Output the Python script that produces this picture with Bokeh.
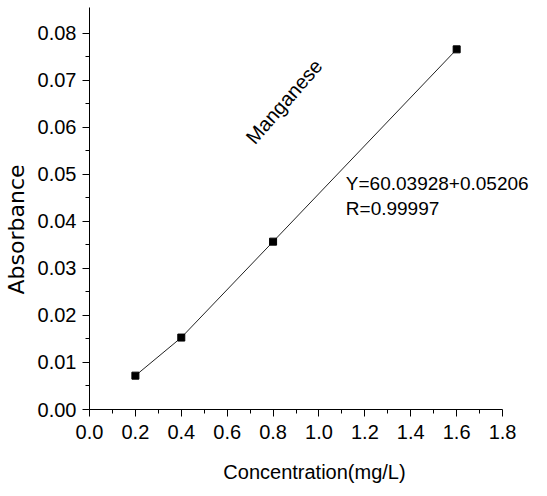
import math
from bokeh.plotting import figure
from bokeh.models import Range1d, FixedTicker, NumeralTickFormatter, Label
from bokeh.embed import file_html
from bokeh.resources import INLINE

conc = [0.2, 0.4, 0.8, 1.6]
absorb = [0.0072, 0.0153, 0.0357, 0.0766]
x_ticks = [0.0, 0.2, 0.4, 0.6, 0.8, 1.0, 1.2, 1.4, 1.6, 1.8]
x_minor = [0.1, 0.3, 0.5, 0.7, 0.9, 1.1, 1.3, 1.5, 1.7]
y_ticks = [0.00, 0.01, 0.02, 0.03, 0.04, 0.05, 0.06, 0.07, 0.08]
y_minor = [0.005, 0.015, 0.025, 0.035, 0.045, 0.055, 0.065, 0.075]

FONT = "Liberation Sans"

# frame extends past 1.8 so the equation text is not clipped; axis is bounded to 0..1.8
p = figure(width=539, height=488, output_backend="svg", toolbar_location=None,
           x_range=Range1d(0, 1.961), y_range=Range1d(0, 0.0855),
           min_border_left=88, min_border_right=0, min_border_top=7, min_border_bottom=79)
p.outline_line_color = None
p.grid.visible = False

p.line(conc, absorb, line_color="#222222", line_width=1)
p.scatter(conc, absorb, marker="square", size=7, fill_color="black", line_color="black")

for ax in (p.xaxis[0], p.yaxis[0]):
    ax.axis_line_color = "black"
    ax.major_tick_line_color = "black"
    ax.minor_tick_line_color = "black"
    ax.major_tick_out = 7
    ax.major_tick_in = 0
    ax.minor_tick_out = 4
    ax.minor_tick_in = 0
    ax.major_label_text_font = FONT
    ax.major_label_text_font_size = "20px"
    ax.major_label_text_color = "black"
    ax.axis_label_text_font = FONT
    ax.axis_label_text_font_size = "20px"
    ax.axis_label_text_font_style = "normal"
    ax.axis_label_text_color = "black"

p.xaxis.bounds = (0, 1.8)
p.xaxis.ticker = FixedTicker(ticks=x_ticks, minor_ticks=x_minor)
p.yaxis.ticker = FixedTicker(ticks=y_ticks, minor_ticks=y_minor)
p.xaxis.formatter = NumeralTickFormatter(format="0.0")
p.yaxis.formatter = NumeralTickFormatter(format="0.00")
p.xaxis.axis_label = "Concentration(mg/L)"
# trailing no-break spaces shift the visible label slightly below centre, as in the reference
p.yaxis.axis_label = "Absorbance" + "\u00a0" * 6
p.yaxis.axis_label_text_font = "DejaVu Sans"
p.yaxis.axis_label_text_font_size = "22px"
p.xaxis.major_label_standoff = 8
p.yaxis.major_label_standoff = 6
p.xaxis.axis_label_standoff = 19
p.yaxis.axis_label_standoff = 6

p.add_layout(Label(x=0.848, y=0.0655, text="Manganese", angle=49 * math.pi / 180,
                   text_align="center", text_baseline="middle",
                   text_font=FONT, text_font_size="20px", text_color="black"))
p.add_layout(Label(x=1.117, y=0.0481, text="Y=60.03928+0.05206",
                   text_align="left", text_baseline="middle",
                   text_font=FONT, text_font_size="19px", text_color="black"))
p.add_layout(Label(x=1.117, y=0.0428, text="R=0.99997",
                   text_align="left", text_baseline="middle",
                   text_font=FONT, text_font_size="19px", text_color="black"))

open("out.html", "w").write(file_html(p, INLINE))
